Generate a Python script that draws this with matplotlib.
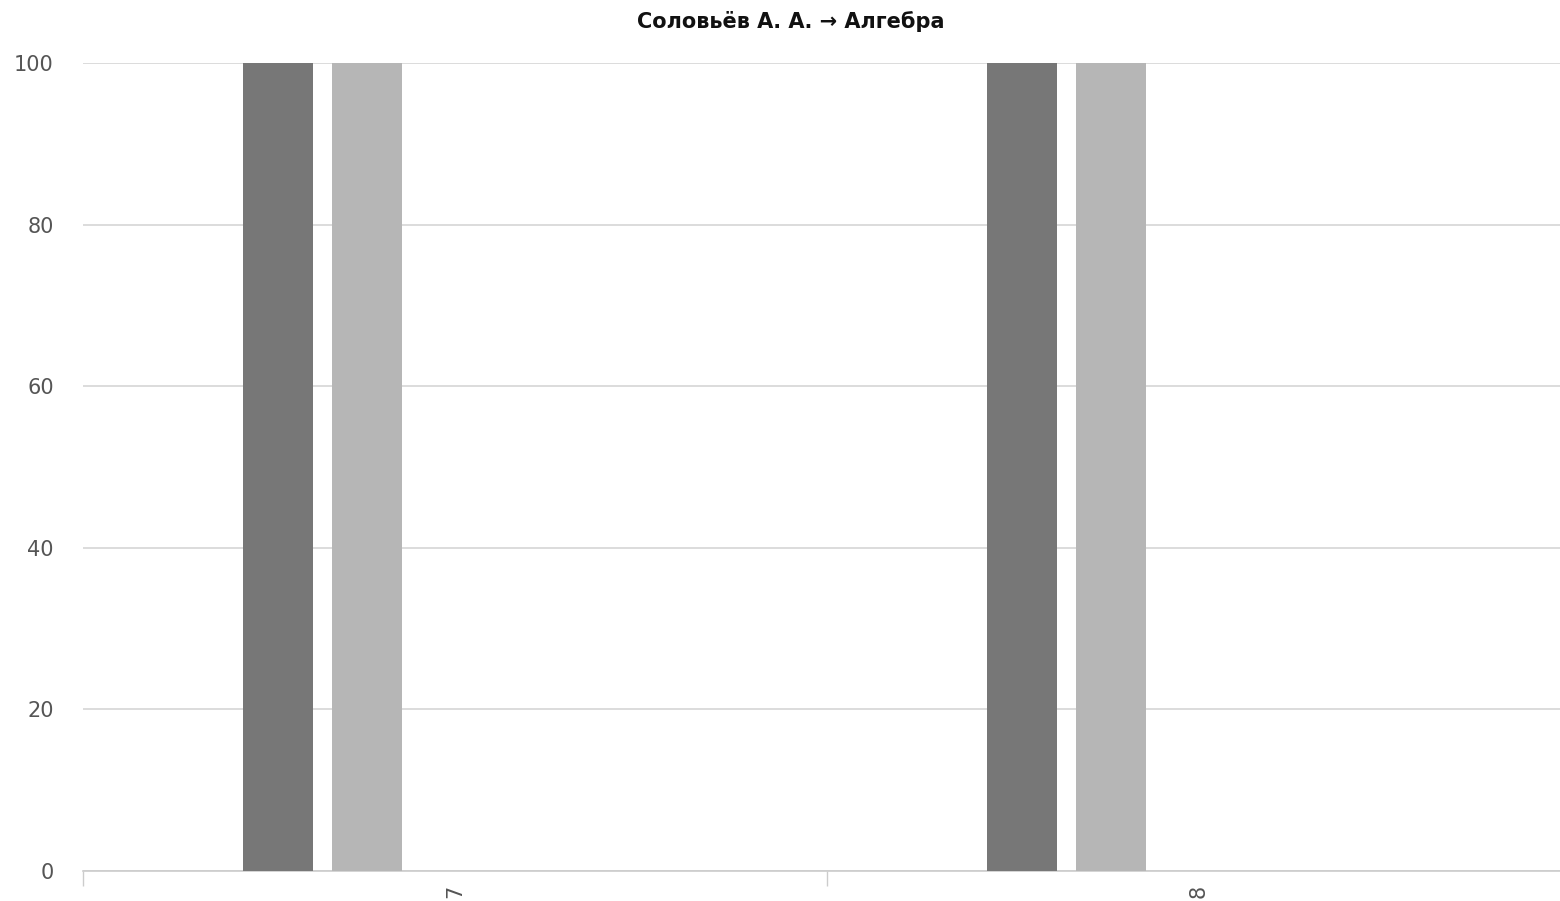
import matplotlib
matplotlib.use("Agg")
import numpy as np
from matplotlib import pyplot as plt

# data
categories = ["7", "8"]
series_values = [
    [100, 100],
    [100, 100],
    [0, 0],
    [0, 0],
    [0, 0],
]
series_colors = ["#777777", "#b6b6b6", "#999999", "#cccccc", "#555555"]
y_ticks = [0, 20, 40, 60, 80, 100]
title = "Соловьёв А. А. → Алгебра"

plt.rcParams['font.family'] = ['DejaVu Sans']

fig = plt.figure(figsize=(15.6, 9.01), dpi=100)
# plot area runs a little past the right edge, as in the reference
ax = fig.add_axes([83 / 1560, 30 / 901, 1488 / 1560, 808 / 901])

x = np.arange(len(categories))
n = len(series_values)
group_w = 0.6
slot = group_w / n
bar_w = slot * 0.79
for i, vals in enumerate(series_values):
    offs = -group_w / 2 + slot * (i + 0.5) + 0.002
    ax.bar(x + offs, vals, width=bar_w, color=series_colors[i], zorder=3)

ax.set_xlim(-0.5, len(categories) - 0.5)
ax.set_ylim(0, 100)
ax.set_yticks(y_ticks)
ax.grid(axis='y', color='#d6d6d6', linewidth=1.2, zorder=0)
ax.tick_params(axis='y', length=0, pad=21, labelsize=15, labelcolor='#555555')

ax.set_xticks(x)
ax.set_xticklabels(categories, rotation=90, fontsize=15, color='#555555', va='top')
ax.set_xticks(np.arange(len(categories) + 1) - 0.5, minor=True)
ax.tick_params(axis='x', which='major', length=0, pad=10)
ax.tick_params(axis='x', which='minor', length=11, width=1, color='#cccccc')

for s in ['top', 'right', 'left']:
    ax.spines[s].set_visible(False)
ax.spines['bottom'].set_color('#cccccc')
ax.spines['bottom'].set_linewidth(1.2)

fig.text(791 / 1560, 1 - 22 / 901, title, ha='center', va='center',
         fontsize=15, fontweight='bold', color='#111111')

fig.savefig("out.png", dpi=100)
